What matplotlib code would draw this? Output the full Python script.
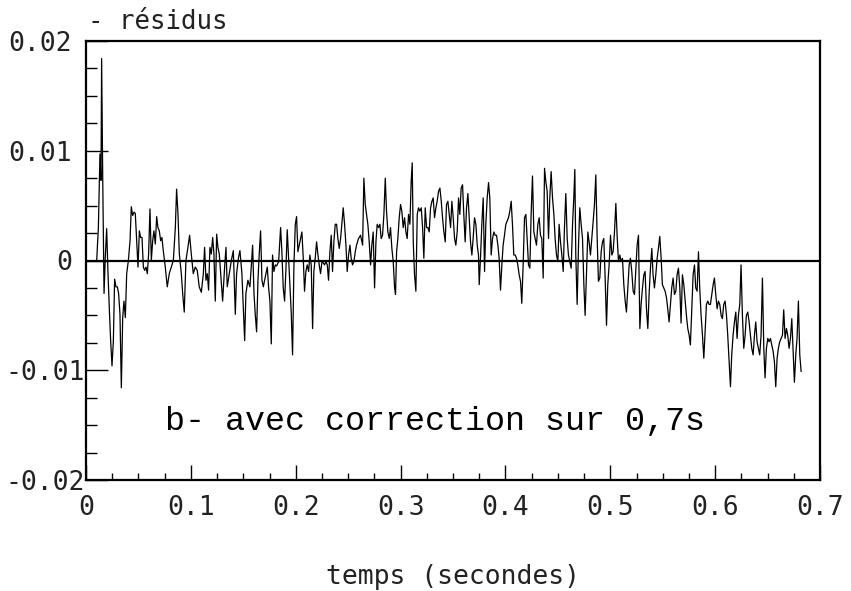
import matplotlib
matplotlib.use("Agg")
import matplotlib.pyplot as plt
from matplotlib.ticker import MultipleLocator, FixedLocator
from matplotlib.transforms import ScaledTranslation
import numpy as np

# temps en ms, residus en unites de 1e-4
temps_ms = [
    10.2, 11.8, 13.3, 14.3, 14.9, 15.9, 17.2, 18.4, 19.7, 21.0,
    22.2, 23.5, 24.8, 26.1, 27.3, 28.6, 29.9, 31.1, 32.4, 33.7,
    35.0, 36.2, 37.5, 38.8, 40.4, 42.0, 43.2, 44.5, 45.8, 47.0,
    48.3, 49.6, 50.9, 52.1, 53.4, 54.7, 55.9, 57.2, 58.5, 59.7,
    61.0, 62.3, 63.6, 64.8, 66.1, 67.4, 68.6, 69.9, 71.2, 72.4,
    73.7, 75.6, 77.5, 79.4, 81.4, 83.3, 85.2, 86.4, 87.7, 89.0,
    90.9, 92.2, 93.7, 95.3, 97.2, 98.8, 100.4, 102.3, 104.2, 106.1,
    108.0, 110.0, 111.9, 113.1, 114.4, 115.7, 116.9, 118.2, 119.5, 120.8,
    122.0, 123.3, 124.6, 125.8, 127.1, 128.4, 130.3, 132.2, 133.5, 134.7,
    136.6, 138.6, 140.5, 142.4, 143.6, 145.5, 146.8, 148.7, 150.0, 151.3,
    152.5, 154.4, 156.3, 157.6, 158.9, 160.2, 161.4, 162.7, 164.0, 165.2,
    166.5, 167.8, 169.1, 170.3, 171.6, 172.9, 174.1, 175.4, 176.7,
    177.9, 179.2, 180.5, 181.8, 183.7, 185.6, 186.8, 188.1, 189.4, 190.7,
    191.9, 193.2, 194.5, 195.7, 197.0, 198.3, 199.6, 200.8, 202.1, 203.4,
    204.6, 205.9, 207.2, 208.4, 209.7, 211.0, 212.3, 213.5, 214.8, 216.1,
    217.3, 218.6, 219.9, 221.2, 222.4, 223.7, 225.0, 226.2, 227.5, 228.8,
    230.1, 231.3, 232.6, 233.9, 235.1, 236.4, 237.7, 239.0, 240.2, 241.5,
    242.8, 244.0, 245.3, 246.6, 247.9, 249.1, 250.4, 251.7, 252.9, 254.2,
    255.5, 256.8, 258.0, 259.9, 261.8, 263.8, 265.0, 266.3, 267.6, 268.8,
    270.1, 271.4, 272.6, 273.9, 275.2, 276.5, 277.7, 279.0, 280.3, 281.5,
    282.8, 284.1, 285.4, 286.6, 287.9, 289.2, 290.4, 291.7, 293.0, 294.3,
    295.2, 296.2, 297.4, 298.7, 300.0, 301.2, 302.5, 303.8, 305.1, 306.3,
    307.6, 308.9, 310.1, 311.1, 312.1, 313.3, 314.6, 315.9, 317.1, 318.4,
    319.7, 321.0, 322.2, 323.5, 324.8, 326.0, 327.3, 328.6, 329.9, 331.1,
    332.4, 333.7, 334.9, 336.2, 337.5, 338.8, 340.0, 341.3, 342.6, 343.8,
    345.1, 346.4, 347.7, 348.9, 350.2, 351.5, 352.7, 354.0, 355.3,
    356.5, 357.8, 359.1, 360.3, 361.6, 362.9, 364.2, 365.4, 366.7, 368.0,
    369.2, 370.5, 371.8, 373.1, 374.3, 375.0, 376.2, 377.5, 378.8, 380.1,
    381.3, 382.6, 383.9, 385.1, 386.4, 387.7, 389.0, 390.2, 391.5, 392.8,
    394.0, 395.3, 396.6, 397.8, 399.1, 400.4, 401.7, 402.9, 404.2, 405.5,
    406.7, 408.0, 409.3, 410.6, 411.8, 413.1, 414.4, 415.6, 416.9, 418.2,
    419.5, 420.7, 422.0, 423.3, 424.5, 425.8, 427.1, 428.4, 429.6, 430.9,
    432.2, 433.4, 434.7, 436.0, 437.3, 438.5, 439.8, 441.1, 442.3, 443.6,
    444.9, 446.2, 447.4, 448.7, 450.0, 451.2, 452.5, 453.8, 455.1, 456.3,
    457.6, 458.9, 460.1, 461.4, 462.7, 464.0, 465.2, 466.2, 467.1, 468.4,
    469.7, 470.9, 472.2, 473.5, 474.8, 476.0, 477.3, 478.6, 479.8, 481.1,
    482.4, 483.7, 484.9, 486.2, 487.5, 488.7, 490.0, 491.3, 492.6, 493.8,
    495.1, 496.4, 497.6, 498.9, 500.2, 501.5, 502.7, 504.0, 505.3, 506.5,
    507.8, 509.1, 510.3, 511.6, 512.9, 514.2, 515.4, 516.7, 518.0, 519.2,
    520.5, 521.8, 523.1, 524.3, 525.6, 526.9, 528.2,
    529.4, 530.7, 532.0, 533.2, 534.5, 535.8, 537.0, 538.3, 539.6, 540.8,
    542.1, 543.4, 544.7, 545.9, 547.2, 548.5, 549.7, 551.0, 552.3, 553.6,
    554.8, 556.1, 557.4, 558.6, 559.9, 561.2, 562.5, 563.7, 565.0, 566.3,
    567.5, 568.8, 570.1, 571.4, 572.6, 573.9, 575.2, 576.4, 577.7, 579.0,
    580.3, 581.5, 582.8, 584.1, 585.3, 586.6, 587.9, 589.2, 590.4, 591.7,
    593.0, 594.2, 595.5, 596.8, 598.1, 599.3, 600.6, 601.9, 603.1, 604.4,
    605.7, 606.9, 608.2, 609.5, 610.8, 612.0, 613.3, 614.6, 615.8, 617.1,
    618.4, 619.7, 620.9, 622.2, 623.5, 624.7, 626.0, 627.3, 628.6, 629.8,
    631.1, 632.4, 633.6, 634.9, 636.2, 637.5, 638.7, 640.0, 641.3, 642.5,
    643.8, 645.1, 646.4, 647.6, 648.9, 650.2, 651.4, 652.7, 654.0, 655.3,
    656.5, 657.8, 659.1, 660.3, 661.6, 662.9, 664.2, 665.4, 666.7, 668.0,
    669.2, 670.5, 671.8, 673.1, 674.3, 675.6, 676.9, 678.1, 679.4, 680.7,
    682.0,
]

residus_e4 = [
    0, 30, 97, 73, 184, 79, -30, 3, 29, -12,
    -43, -73, -96, -73, -17, -24, -24, -30, -49, -116,
    -52, -37, -52, -12, 0, 18, 49, 41, 44, 43,
    18, -6, 27, 21, 21, -6, -9, -6, -12, 6,
    47, 0, 18, 27, 15, 40, 30, 27, 18, 21,
    9, -6, -24, -12, -6, 0, 30, 65, 43, 6,
    -12, -30, -47, 0, 12, 23, 6, -12, -6, -9,
    -24, -29, -12, 12, -18, -12, -27, 12, 6, 21,
    6, -37, 24, 12, 6, -12, -37, -6, 12, -24,
    -12, 0, 9, -49, -12, 3, 9, -12, -43, -73,
    -30, -18, -24, -6, 14, -30, -49, -65, -18, 6,
    27, -18, -24, -18, -12, -6, -24, -37, -76,
    5, -10, -4, -5, -1, 30, 8, -25, -37, -7,
    28, 2, -22, -47, -86, -4, 33, 40, 8, 14,
    20, 26, 2, -28, -10, -4, -10, 5, -4, -62,
    -10, 2, 17, 5, -4, -12, -1, -2, -4, -1,
    -4, -18, 8, 23, -10, 17, 33, 33, 20, 11,
    20, 33, 48, 33, 14, -10, 5, 14, 2, -4,
    -1, 8, 14, 20, 23, 14, 75, 51, 42, 33,
    17, -4, 14, 26, -25, 17, 33, 30, 33, 20,
    23, 42, 75, 45, 26, 20, 30, 11, -1, -25,
    -31, 8, 20, 39, 51, 45, 30, 39, 26, 20,
    42, 33, 72, 89, 17, -13, -28, 42, 48, 45,
    48, 30, 2, 48, 30, 30, 26, 48, 54, 57,
    39, 48, 54, 63, 66, 54, 39, 26, 17, 51,
    54, 42, 30, 54, 39, 20, 14, 26, 57,
    42, 66, 69, 42, 17, 48, 61, 39, 17, 5,
    20, 39, 33, 14, 5, -22, 2, 33, 57, -10,
    33, 57, 71, 57, 5, 20, 26, 23, 23, 14,
    2, -27, -4, 14, 23, 33, 36, 39, 45, 54,
    33, 5, 5, 2, -4, -13, -19, -39, -4, 39,
    42, 20, -4, -7, 42, 77, 26, 20, 14, 33,
    39, 23, 20, -16, 84, 72, 63, 20, 57, 81,
    57, 42, 20, 5, -1, 33, 17, 5, -10, 30,
    61, 20, 5, -1, -7, 33, 57, 83, 5, -40,
    14, 48, 33, 20, -22, -50, -13, 26, 17, 5,
    20, 36, 51, 78, 20, -19, -16, 8, 17, 20,
    -16, -59, -22, -4, 23, 5, 8, 26, 52, 23,
    -1, 5, -1, 2, -22, -37, -47, -25, -4, 2,
    -10, -28, -31, -10, 14, 23, -62,
    -40, -25, -13, -10, -44, -62, -31, -7, 11, -13,
    -25, -13, 2, 11, 22, 2, -22, -25, -28, -34,
    -44, -56, -40, -25, -16, -31, -28, -13, -7, -25,
    -57, -13, -22, -37, -50, -62, -68, -77, -44, -13,
    -4, -25, -28, 8, -25, -50, -68, -89, -65, -40,
    -37, -40, -40, -31, -22, -16, -31, -44, -37, -40,
    -50, -53, -40, -37, -50, -68, -92, -115, -86, -68,
    -56, -47, -71, -50, -40, -4, -50, -80, -68, -50,
    -47, -56, -68, -80, -86, -68, -56, -74, -80, -86,
    -68, -16, -80, -107, -80, -71, -74, -71, -77, -83,
    -92, -115, -89, -80, -74, -71, -68, -45, -71, -62,
    -68, -80, -71, -53, -80, -111, -86, -71, -37, -86,
    -101,
]

xticks = [0, 0.1, 0.2, 0.3, 0.4, 0.5, 0.6, 0.7]
xlabels = ["0", "0.1", "0.2", "0.3", "0.4", "0.5", "0.6", "0.7"]
yticks = [-0.02, -0.01, 0, 0.01, 0.02]
ylabels = ["-0.02", "-0.01", "0", "0.01", "0.02"]

t = np.array(temps_ms) / 1000.0
r = np.array(residus_e4) * 1e-4

police = "DejaVu Sans Mono"
gris = "#222222"

fig = plt.figure(figsize=(8.51, 5.91), dpi=100)
ax = fig.add_axes([86 / 851, 1 - 480 / 591, 734 / 851, 439 / 591])

ax.plot(t, r, color="black", linewidth=0.9)
ax.axhline(0, color="black", linewidth=1.6)

ax.set_xlim(0, 0.7)
ax.set_ylim(-0.02, 0.02)

ax.xaxis.set_major_locator(FixedLocator(xticks))
ax.set_xticklabels(xlabels, family=police, fontsize=19, color=gris)
ax.yaxis.set_major_locator(FixedLocator(yticks))
ax.set_yticklabels(ylabels, family=police, fontsize=19, color=gris)
ax.xaxis.set_minor_locator(MultipleLocator(0.025))
ax.yaxis.set_minor_locator(MultipleLocator(0.0025))

ax.tick_params(axis="both", which="both", direction="in", top=False, right=False, width=1)
ax.tick_params(axis="y", which="major", length=16, pad=10)
ax.tick_params(axis="y", which="minor", length=8)
ax.tick_params(axis="x", which="major", length=11, pad=11)
ax.tick_params(axis="x", which="minor", length=5)

# les etiquettes negatives debordent vers l'axe, comme sur le trace original
decal = ScaledTranslation(0.13, 0, fig.dpi_scale_trans)
for lab in ax.get_yticklabels():
    if lab.get_text().startswith("-"):
        lab.set_transform(lab.get_transform() + decal)

for s in ax.spines.values():
    s.set_linewidth(1.6)

ax.text(0.0753, -0.0147, "b- avec correction sur 0,7s", family="Liberation Mono",
        fontsize=24, ha="left", va="center")

fig.text(88 / 851, 1 - 22 / 591, "- résidus", family=police, fontsize=18.5,
         ha="left", va="center", color=gris)
fig.text(453 / 851, 1 - 577 / 591, "temps (secondes)", family=police, fontsize=19,
         ha="center", va="center", color=gris)

fig.savefig("out.png", dpi=100)
